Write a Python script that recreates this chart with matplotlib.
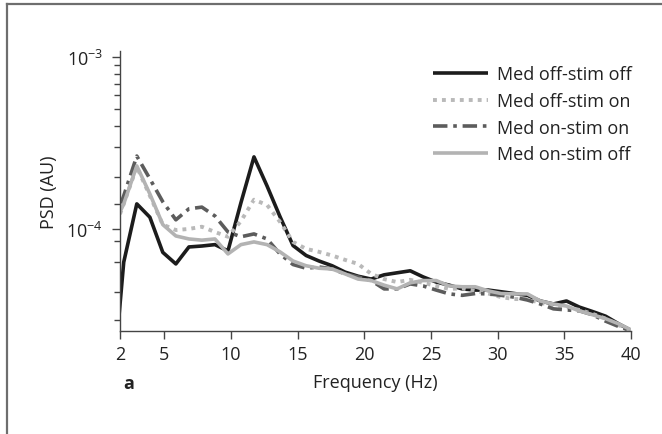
import matplotlib
matplotlib.use("Agg")
import matplotlib.pyplot as plt
from matplotlib.lines import Line2D
from matplotlib.ticker import FixedLocator, NullFormatter, FixedFormatter

# ---------------- data ----------------
freqs = [0.98, 1.95, 2.93, 3.91, 4.88, 5.86, 6.84, 7.81, 8.79, 9.77,
         10.74, 11.72, 12.70, 13.67, 14.65, 15.63, 16.60, 17.58, 18.55, 19.53,
         20.51, 21.48, 22.46, 23.44, 24.41, 25.39, 26.37, 27.34, 28.32, 29.30,
         30.27, 31.25, 32.23, 33.20, 34.18, 35.16, 36.13, 37.11, 38.09, 39.06, 40.04]

# PSD values in units of 1e-4
med_off_stim_off = [0.089, 0.64, 1.40, 1.17, 0.73, 0.625, 0.785, 0.795, 0.81, 0.745,
                    1.42, 2.63, 1.78, 1.18, 0.80, 0.70, 0.65, 0.61, 0.56, 0.53,
                    0.51, 0.54, 0.555, 0.57, 0.525, 0.49, 0.47, 0.447, 0.44, 0.44,
                    0.43, 0.42, 0.41, 0.38, 0.365, 0.38, 0.35, 0.33, 0.31, 0.28, 0.255]
med_off_stim_on = [0.87, 1.40, 2.30, 1.56, 1.06, 0.985, 1.00, 1.03, 0.96, 0.90,
                   1.11, 1.48, 1.38, 1.10, 0.84, 0.765, 0.735, 0.70, 0.66, 0.625,
                   0.547, 0.51, 0.49, 0.505, 0.485, 0.465, 0.447, 0.45, 0.435, 0.42,
                   0.40, 0.39, 0.39, 0.37, 0.36, 0.35, 0.337, 0.32, 0.30, 0.275, 0.254]
med_on_stim_on = [0.97, 1.56, 2.66, 1.96, 1.44, 1.13, 1.31, 1.34, 1.19, 0.96,
                  0.90, 0.935, 0.874, 0.715, 0.62, 0.59, 0.60, 0.585, 0.547, 0.525,
                  0.50, 0.447, 0.447, 0.478, 0.465, 0.44, 0.418, 0.41, 0.42, 0.418,
                  0.41, 0.40, 0.385, 0.365, 0.342, 0.337, 0.333, 0.316, 0.29, 0.27, 0.254]
med_on_stim_off = [0.96, 1.40, 2.33, 1.60, 1.06, 0.91, 0.874, 0.86, 0.874, 0.715,
                   0.81, 0.84, 0.81, 0.735, 0.65, 0.61, 0.59, 0.584, 0.547, 0.51,
                   0.50, 0.47, 0.447, 0.485, 0.50, 0.50, 0.465, 0.46, 0.46, 0.435,
                   0.42, 0.418, 0.418, 0.38, 0.365, 0.355, 0.333, 0.316, 0.30, 0.28, 0.257]

labels = ["Med off-stim off", "Med off-stim on", "Med on-stim on", "Med on-stim off"]
x_tick_pos = [1.67, 5, 10, 15, 20, 25, 30, 35, 40]
x_tick_labels = ["2", "5", "10", "15", "20", "25", "30", "35", "40"]
y_major = [1e-4, 1e-3]
y_major_labels = [r"$10^{-4}$", r"$10^{-3}$"]
y_minor = [2.96e-5, 4.27e-5, 6.45e-5, 8.55e-5, 1.39e-4,
           2e-4, 3e-4, 4e-4, 5e-4, 6e-4, 7e-4, 8e-4, 9e-4]

# ---------------- style ----------------
plt.rcParams['font.family'] = ['Open Sans', 'DejaVu Sans']
plt.rcParams['mathtext.fontset'] = 'custom'
plt.rcParams['mathtext.rm'] = 'Open Sans'
plt.rcParams['mathtext.it'] = 'Open Sans'
plt.rcParams['mathtext.bf'] = 'Open Sans:bold'

FS = 13
W, H = 662, 435
fig = plt.figure(figsize=(W / 100, H / 100), dpi=100)
ax = fig.add_axes([120 / W, 1 - 332 / H, (631 - 120) / W, (332 - 52) / H])

scale = 1e-4
series = [
    (med_off_stim_off, dict(color="#1c1c1c", lw=2.6, ls="-", solid_capstyle="butt")),
    (med_off_stim_on, dict(color="#b9b9b9", lw=2.8, ls=(0, (1, 1.3)), dash_capstyle="butt")),
    (med_on_stim_on, dict(color="#5c5c5c", lw=2.6, ls=(0, (4, 1.6, 1, 1.6)), dash_capstyle="butt")),
    (med_on_stim_off, dict(color="#b3b3b3", lw=2.6, ls="-", solid_capstyle="butt")),
]
handles = []
for (vals, kw), lab in zip(series, labels):
    h, = ax.plot(freqs, [v * scale for v in vals], label=lab, **kw)
    handles.append(h)

ax.set_yscale("log")
ax.set_xlim(1.67, 40)
ax.set_ylim(2.54e-5, 1.09e-3)

ax.xaxis.set_major_locator(FixedLocator(x_tick_pos))
ax.xaxis.set_major_formatter(FixedFormatter(x_tick_labels))
ax.yaxis.set_major_locator(FixedLocator(y_major))
ax.yaxis.set_major_formatter(FixedFormatter(y_major_labels))
ax.yaxis.set_minor_locator(FixedLocator(y_minor))
ax.yaxis.set_minor_formatter(NullFormatter())

for s in ["top", "right"]:
    ax.spines[s].set_visible(False)
for s in ["left", "bottom"]:
    ax.spines[s].set_color("#444444")
    ax.spines[s].set_linewidth(1.0)

ax.tick_params(axis="both", which="major", direction="out", length=6, width=1.0,
               color="#444444", labelsize=FS, labelcolor="#222222", pad=4)
ax.tick_params(axis="y", which="major", pad=6)
ax.tick_params(axis="y", which="minor", direction="out", length=4, width=1.0, color="#444444")
ax.tick_params(axis="x", which="minor", length=0)

ax.set_xlabel("Frequency (Hz)", fontsize=FS, color="#222222", labelpad=7)
ax.set_ylabel("PSD (AU)", fontsize=FS, color="#222222", labelpad=6)

leg = ax.legend(handles=handles, loc="upper right", bbox_to_anchor=(1.0235, 0.988),
                frameon=False, fontsize=FS, handlelength=3.05, handletextpad=0.5,
                labelspacing=0.48, borderaxespad=0.2)
for t in leg.get_texts():
    t.set_color("#222222")

fig.text(123 / W, 1 - 384 / H, "a", fontsize=FS, fontweight="bold", color="#222222",
         ha="left", va="center")

# outer frame (left and top edges)
fig.add_artist(Line2D([7 / W, 7 / W], [0, 1 - 5 / H], transform=fig.transFigure,
                      color="#6e6e6e", lw=1.6))
fig.add_artist(Line2D([7 / W, 1], [1 - 5 / H, 1 - 5 / H], transform=fig.transFigure,
                      color="#6e6e6e", lw=1.6))

fig.savefig("out.png", dpi=100)
